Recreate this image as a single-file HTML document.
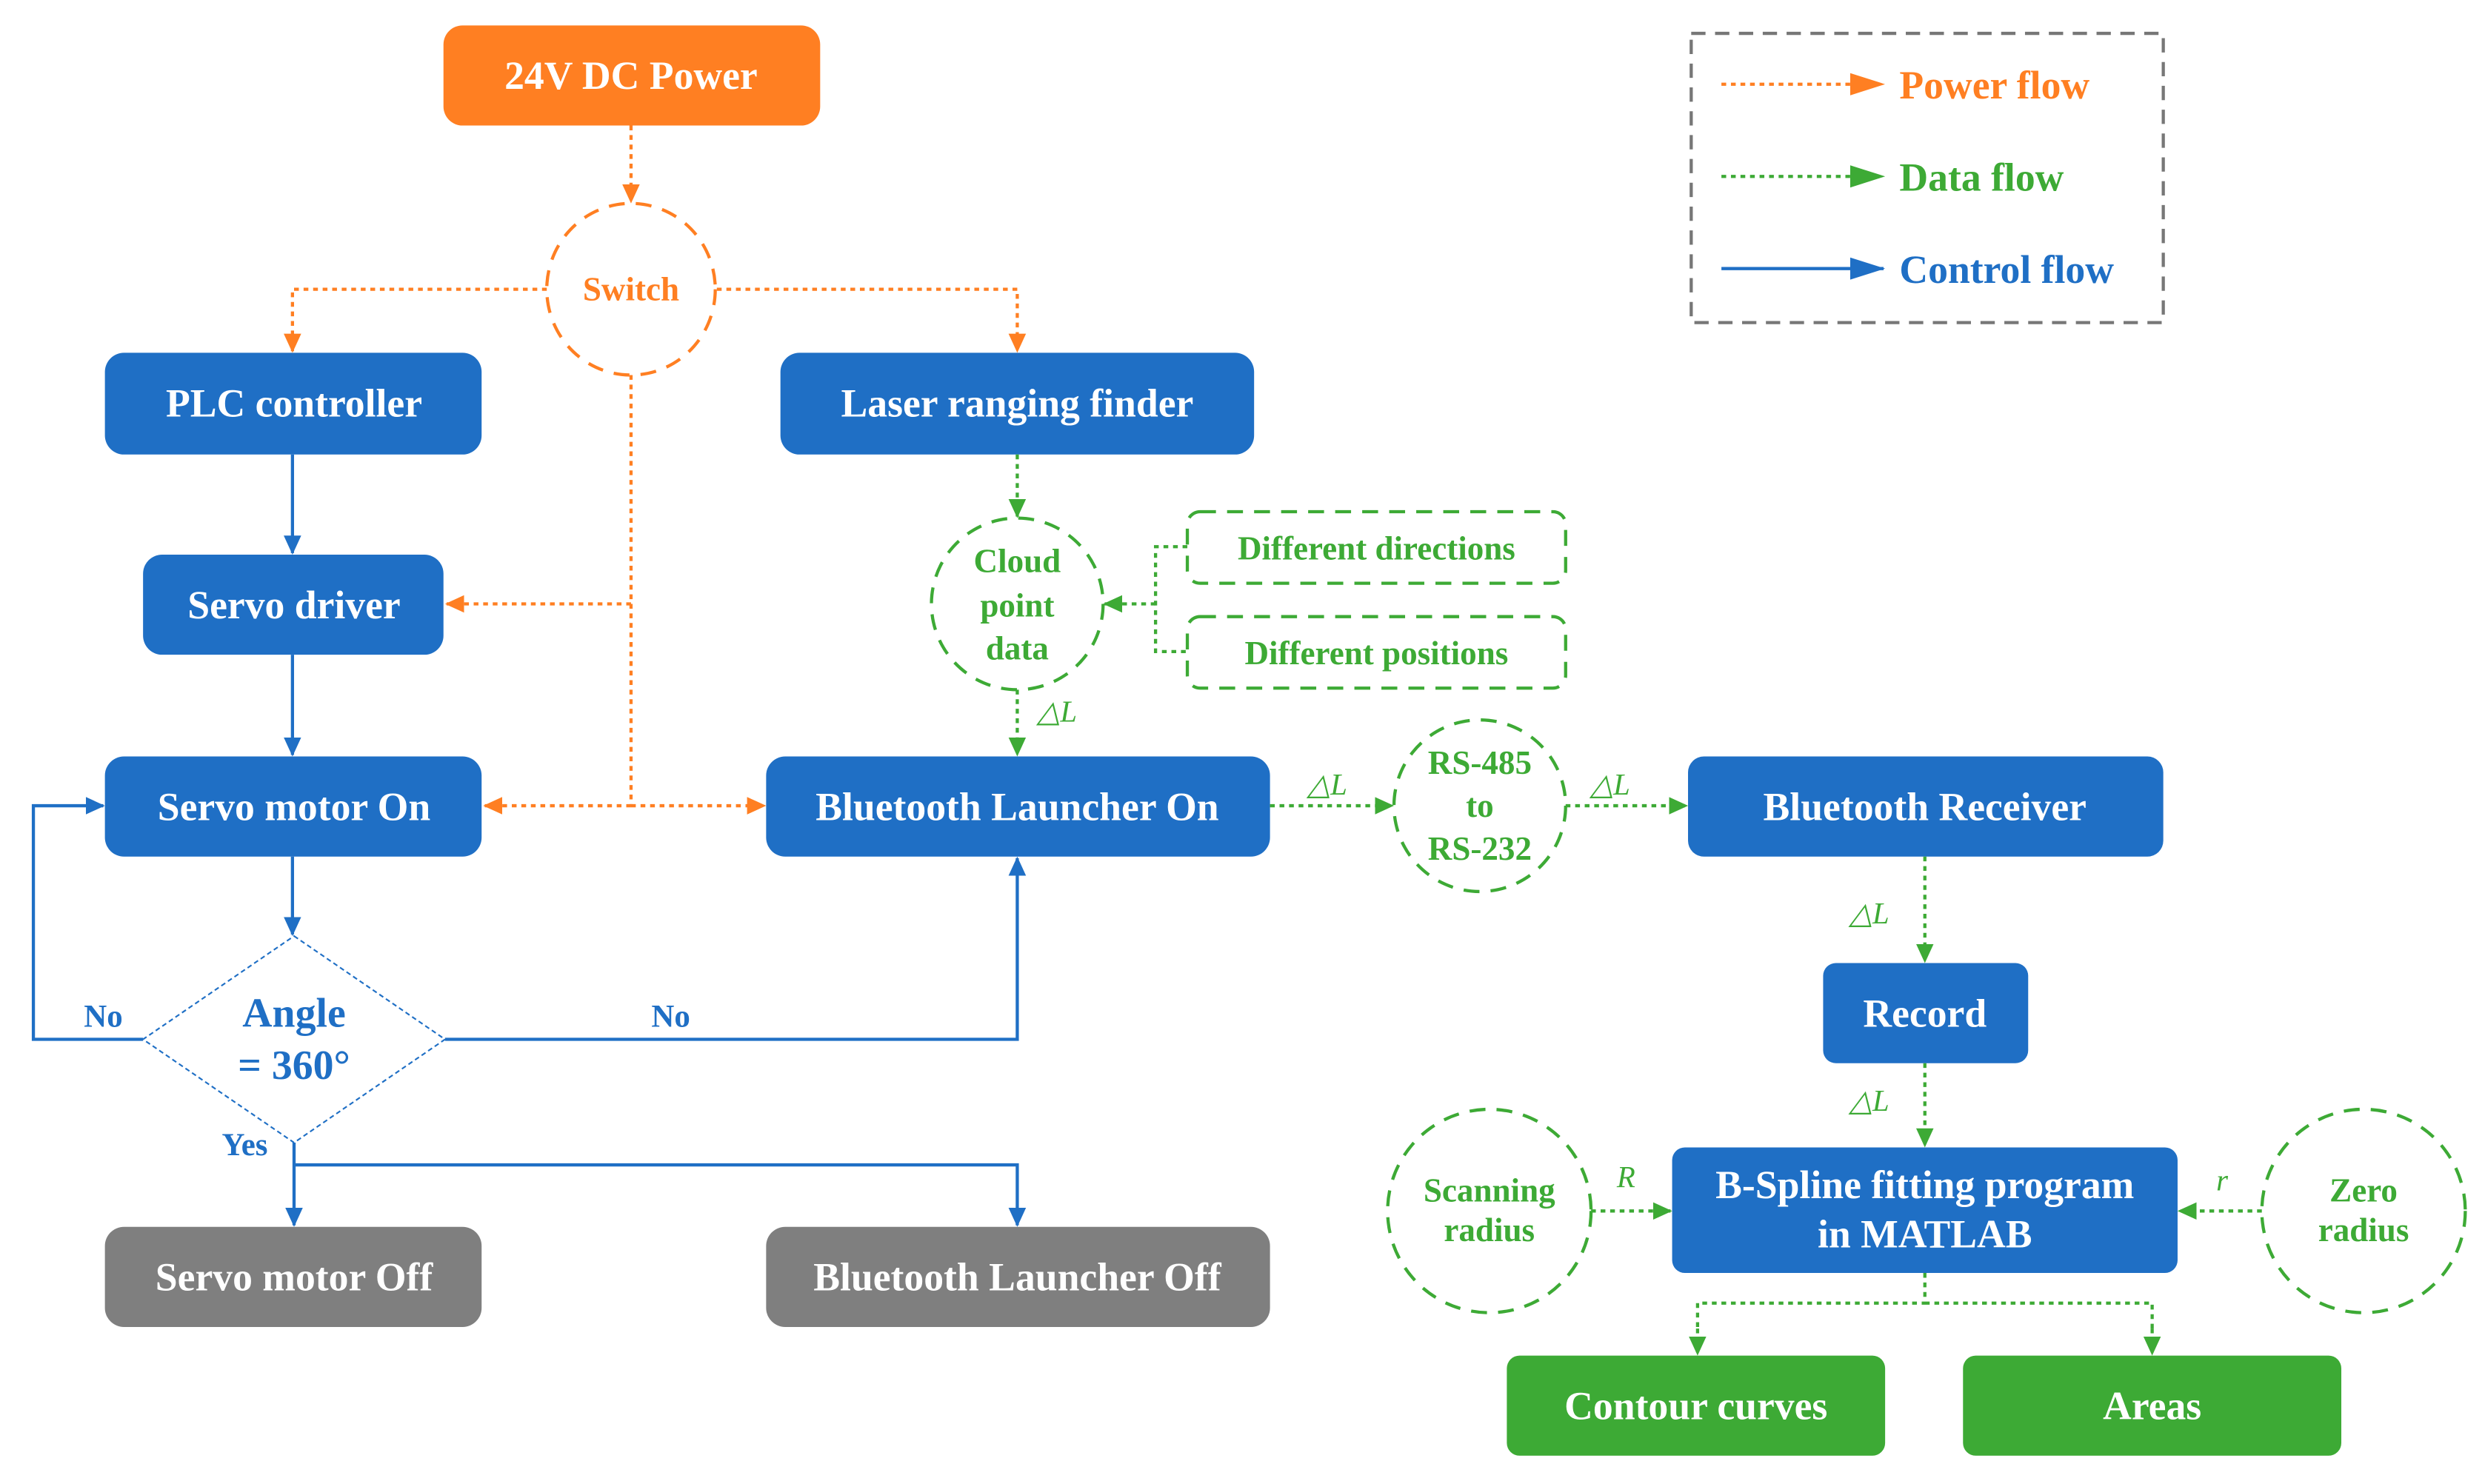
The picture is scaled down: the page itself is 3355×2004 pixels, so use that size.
<!DOCTYPE html>
<html><head><meta charset="utf-8"><style>html,body{margin:0;padding:0;background:#fff}svg{display:block}</style></head>
<body>
<svg width="3355" height="2004" viewBox="0 0 1563.4 933.8" preserveAspectRatio="none" xmlns="http://www.w3.org/2000/svg" font-family="'Liberation Serif',serif" font-weight="bold">
<defs>
<marker id="ao" markerWidth="12" markerHeight="12" refX="11" refY="6" orient="auto" markerUnits="userSpaceOnUse"><path d="M0,0.5 L12,6 L0,11.5z" fill="#FF7F22"/></marker>
<marker id="ag" markerWidth="12" markerHeight="12" refX="11" refY="6" orient="auto" markerUnits="userSpaceOnUse"><path d="M0,0.5 L12,6 L0,11.5z" fill="#3DAA35"/></marker>
<marker id="ab" markerWidth="12" markerHeight="12" refX="11" refY="6" orient="auto" markerUnits="userSpaceOnUse"><path d="M0,0.5 L12,6 L0,11.5z" fill="#1F6FC5"/></marker>
<marker id="al" markerWidth="22" markerHeight="16" refX="21" refY="8" orient="auto" markerUnits="userSpaceOnUse"><path d="M0,1 L22,8 L0,15z" fill="#FF7F22"/></marker>
<marker id="alg" markerWidth="22" markerHeight="16" refX="21" refY="8" orient="auto" markerUnits="userSpaceOnUse"><path d="M0,1 L22,8 L0,15z" fill="#3DAA35"/></marker>
<marker id="alb" markerWidth="22" markerHeight="16" refX="21" refY="8" orient="auto" markerUnits="userSpaceOnUse"><path d="M0,1 L22,8 L0,15z" fill="#1F6FC5"/></marker>
</defs>

<g>
<rect x="279" y="16" width="237" height="63" rx="12" fill="#FF7F22"/>
<rect x="66" y="222" width="237" height="64" rx="12" fill="#1F6FC5"/>
<rect x="491" y="222" width="298" height="64" rx="12" fill="#1F6FC5"/>
<rect x="90" y="349" width="189" height="63" rx="12" fill="#1F6FC5"/>
<rect x="66" y="476" width="237" height="63" rx="12" fill="#1F6FC5"/>
<rect x="482" y="476" width="317" height="63" rx="12" fill="#1F6FC5"/>
<rect x="1062" y="476" width="299" height="63" rx="10" fill="#1F6FC5"/>
<rect x="1147" y="606" width="129" height="63" rx="8" fill="#1F6FC5"/>
<rect x="1052" y="722" width="318" height="79" rx="8" fill="#1F6FC5"/>
<rect x="66" y="772" width="237" height="63" rx="12" fill="#7F7F7F"/>
<rect x="482" y="772" width="317" height="63" rx="12" fill="#7F7F7F"/>
<rect x="948" y="853" width="238" height="63" rx="8" fill="#3DAA35"/>
<rect x="1235" y="853" width="238" height="63" rx="8" fill="#3DAA35"/>
</g>
<g fill="#fff" font-size="25" text-anchor="middle">
<text x="397" y="56">24V DC Power</text>
<text x="185" y="262">PLC controller</text>
<text x="640" y="262">Laser ranging finder</text>
<text x="185" y="389">Servo driver</text>
<text x="185" y="516">Servo motor On</text>
<text x="640" y="516">Bluetooth Launcher On</text>
<text x="1211" y="516">Bluetooth Receiver</text>
<text x="1211" y="646">Record</text>
<text x="1211" y="754">B-Spline fitting program</text>
<text x="1211" y="785">in MATLAB</text>
<text x="185" y="812">Servo motor Off</text>
<text x="640" y="812">Bluetooth Launcher Off</text>
<text x="1067" y="893">Contour curves</text>
<text x="1354" y="893">Areas</text>
</g>

<g fill="none" stroke-width="2" stroke-dasharray="10 7">
<ellipse cx="397" cy="182" rx="53" ry="54" stroke="#FF7F22"/>
<circle cx="640" cy="380" r="54" stroke="#3DAA35"/>
<circle cx="931" cy="507" r="54" stroke="#3DAA35"/>
<circle cx="937" cy="762" r="64" stroke="#3DAA35"/>
<circle cx="1487" cy="762" r="64" stroke="#3DAA35"/>
<rect x="747" y="322" width="238" height="45" rx="8" stroke="#3DAA35"/>
<rect x="747" y="388" width="238" height="45" rx="8" stroke="#3DAA35"/>
<rect x="1064" y="21" width="297" height="182" stroke="#777" stroke-dasharray="9 6"/>
</g>
<polygon points="185,589 280,654 185,719 90,654" fill="#fff" stroke="#1F6FC5" stroke-width="1" stroke-dasharray="3 2"/>

<g font-size="21" text-anchor="middle">
<text x="397" y="189" fill="#FF7F22">Switch</text>
<g fill="#3DAA35">
<text x="640" y="360">Cloud</text><text x="640" y="388">point</text><text x="640" y="415">data</text>
<text x="931" y="487">RS-485</text><text x="931" y="514">to</text><text x="931" y="541">RS-232</text>
<text x="937" y="756">Scanning</text><text x="937" y="781">radius</text>
<text x="1487" y="756">Zero</text><text x="1487" y="781">radius</text>
<text x="866" y="352">Different directions</text>
<text x="866" y="418">Different positions</text>
</g>
<g fill="#1F6FC5" font-size="26"><text x="185" y="646">Angle</text><text x="185" y="679">= 360°</text></g>
<g fill="#1F6FC5" font-size="20"><text x="65" y="646">No</text><text x="422" y="646">No</text><text x="154" y="727">Yes</text></g>
<g fill="#3DAA35" font-size="19" font-weight="normal" font-style="italic">
<text x="665" y="454">△L</text><text x="835" y="500">△L</text><text x="1013" y="500">△L</text>
<text x="1176" y="581">△L</text><text x="1176" y="699">△L</text>
<text x="1023" y="747">R</text><text x="1398" y="749">r</text>
</g>
</g>

<g fill="none" stroke="#FF7F22" stroke-width="2" stroke-dasharray="3 3">
<path d="M397,79 V127" marker-end="url(#ao)"/>
<path d="M344,182 H184 V221" marker-end="url(#ao)"/>
<path d="M451,182 H640 V221" marker-end="url(#ao)"/>
<path d="M397,236 V507"/>
<path d="M397,380 H281" marker-end="url(#ao)"/>
<path d="M397,507 H305" marker-end="url(#ao)"/>
<path d="M397,507 H481" marker-end="url(#ao)"/>
<path d="M1083,53 H1185" marker-end="url(#al)"/>
</g>
<g fill="none" stroke="#3DAA35" stroke-width="2" stroke-dasharray="3 3">
<path d="M640,286 V325" marker-end="url(#ag)"/>
<path d="M747,344 H727 V410 H747"/>
<path d="M727,380 H695" marker-end="url(#ag)"/>
<path d="M640,434 V475" marker-end="url(#ag)"/>
<path d="M799,507 H876" marker-end="url(#ag)"/>
<path d="M985,507 H1061" marker-end="url(#ag)"/>
<path d="M1211,539 V605" marker-end="url(#ag)"/>
<path d="M1211,669 V721" marker-end="url(#ag)"/>
<path d="M1001,762 H1051" marker-end="url(#ag)"/>
<path d="M1423,762 H1371" marker-end="url(#ag)"/>
<path d="M1211,801 V820 H1068 V836 M1211,820 H1354 V836"/>
<path d="M1068,836 V852" marker-end="url(#ag)"/>
<path d="M1354,836 V852" marker-end="url(#ag)"/>
<path d="M1083,111 H1185" marker-end="url(#alg)"/>
</g>
<g fill="none" stroke="#1F6FC5" stroke-width="2">
<path d="M184,286 V348" marker-end="url(#ab)"/>
<path d="M184,412 V475" marker-end="url(#ab)"/>
<path d="M184,539 V588" marker-end="url(#ab)"/>
<path d="M90,654 H21 V507 H65" marker-end="url(#ab)"/>
<path d="M280,654 H640 V540" marker-end="url(#ab)"/>
<path d="M185,719 V771" marker-end="url(#ab)"/>
<path d="M185,733 H640 V771" marker-end="url(#ab)"/>
<path d="M1083,169 H1185" marker-end="url(#alb)"/>
</g>

<g font-size="25">
<text x="1195" y="62" fill="#FF7F22">Power flow</text>
<text x="1195" y="120" fill="#3DAA35">Data flow</text>
<text x="1195" y="178" fill="#1F6FC5">Control flow</text>
</g>
</svg>
</body></html>
